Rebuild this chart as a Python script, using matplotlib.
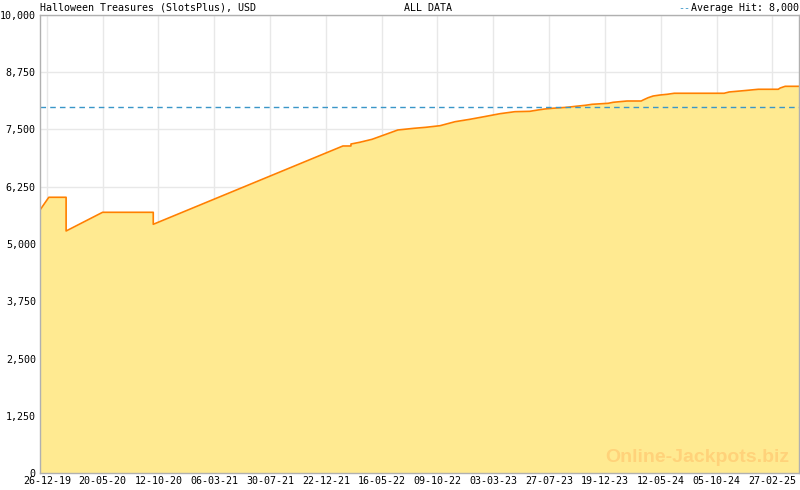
import matplotlib
matplotlib.use('Agg')
import matplotlib.pyplot as plt
import matplotlib.dates as mdates
import pandas as pd
import numpy as np

# jackpot history
dates = ['2019-12-09', '2020-01-01', '2020-02-15', '2020-02-15', '2020-05-20',
         '2020-09-29', '2020-09-29', '2022-02-05', '2022-02-26', '2022-02-26',
         '2022-03-21', '2022-04-22', '2022-05-28', '2022-06-28', '2022-08-09',
         '2022-09-09', '2022-10-16', '2022-11-24', '2023-01-02', '2023-02-08',
         '2023-03-21', '2023-04-29', '2023-06-07', '2023-06-28', '2023-07-16',
         '2023-08-04', '2023-09-12', '2023-10-05', '2023-10-29', '2023-11-16',
         '2023-12-28', '2024-01-10', '2024-02-15', '2024-03-23', '2024-03-28',
         '2024-04-10', '2024-04-23', '2024-05-11', '2024-05-30', '2024-06-17',
         '2024-10-25', '2024-11-07', '2024-12-14', '2025-01-22', '2025-03-15',
         '2025-03-20', '2025-04-02', '2025-05-08']
values = [5742, 6020, 6020, 5284, 5692,
          5692, 5430, 7140, 7140, 7183,
          7221, 7286, 7395, 7489, 7526,
          7548, 7583, 7670, 7723, 7780,
          7845, 7889, 7897, 7926, 7948,
          7963, 7985, 8007, 8028, 8050,
          8072, 8094, 8122, 8122, 8144,
          8194, 8231, 8253, 8269, 8291,
          8291, 8319, 8347, 8378, 8378,
          8406, 8443, 8443]
average_hit = 8000
y_ticks = [0, 1250, 2500, 3750, 5000, 6250, 7500, 8750, 10000]
x_tick_first = '2019-12-26 15:30'
x_tick_last = '2025-02-27 15:30'
n_x_ticks = 14

title = 'Halloween Treasures (SlotsPlus), USD'
subtitle = 'ALL DATA'
avg_label = 'Average Hit: 8,000'

df = pd.DataFrame({'date': pd.to_datetime(dates), 'value': values})

mono = 'DejaVu Sans Mono'
fs = 7.2
fig = plt.figure(figsize=(8, 4.9), dpi=100)
ax = fig.add_axes([40 / 800, 17 / 490, 759 / 800, 458 / 490])

ax.fill_between(df['date'], df['value'], 0, color='#ffea91', lw=0, zorder=2)
ax.plot(df['date'], df['value'], color='#ff8000', lw=1.2, zorder=3)
ax.axhline(average_hit, color='#3a96c8', lw=1, ls=(0, (4, 3)), zorder=4)

# evenly spaced date ticks, 6 minor steps per major step
t0 = mdates.date2num(pd.Timestamp(x_tick_first))
t1 = mdates.date2num(pd.Timestamp(x_tick_last))
step = (t1 - t0) / (n_x_ticks - 1)
major = t0 + step * np.arange(n_x_ticks)
minor = t0 + step / 6 * np.arange(-6, 6 * n_x_ticks + 6)
ax.set_xticks(major)
ax.set_xticks(minor, minor=True)
ax.xaxis.set_major_formatter(mdates.DateFormatter('%d-%m-%y'))
ax.set_yticks(y_ticks)
ax.set_yticklabels([f'{v:,}' for v in y_ticks])

ax.set_xlim(df['date'].iloc[0], df['date'].iloc[-1])
ax.set_ylim(0, 10000)

ax.tick_params(axis='x', which='major', direction='in', length=5, color='#b0b0b0',
               labelsize=fs, pad=2)
ax.tick_params(axis='x', which='minor', direction='in', length=3, color='#b0b0b0')
ax.tick_params(axis='y', length=0, labelsize=fs, pad=3)
for lab in ax.get_xticklabels() + ax.get_yticklabels():
    lab.set_family(mono)

ax.grid(True, which='major', color='#e8e8e8', lw=1, zorder=0)
ax.set_axisbelow(True)
for s in ax.spines.values():
    s.set_color('#b0b0b0')
    s.set_linewidth(1)
    s.set_zorder(5)

fig.text(40 / 800, 1 - 8 / 490, title, family=mono, fontsize=fs, va='center', ha='left')
fig.text(428 / 800, 1 - 8 / 490, subtitle, family=mono, fontsize=fs, va='center', ha='center')
fig.text(799 / 800, 1 - 8 / 490, avg_label, family=mono, fontsize=fs, va='center', ha='right')
fig.text(690 / 800, 1 - 8 / 490, '--', family=mono, fontsize=fs, va='center', ha='right',
         color='#3a96c8')

ax.text(0.987, 0.015, 'Online-Jackpots.biz', transform=ax.transAxes, ha='right', va='bottom',
        family='Liberation Sans', weight='bold', fontsize=14, color='#ffd27a', zorder=6)

fig.savefig('out.png', dpi=100)
